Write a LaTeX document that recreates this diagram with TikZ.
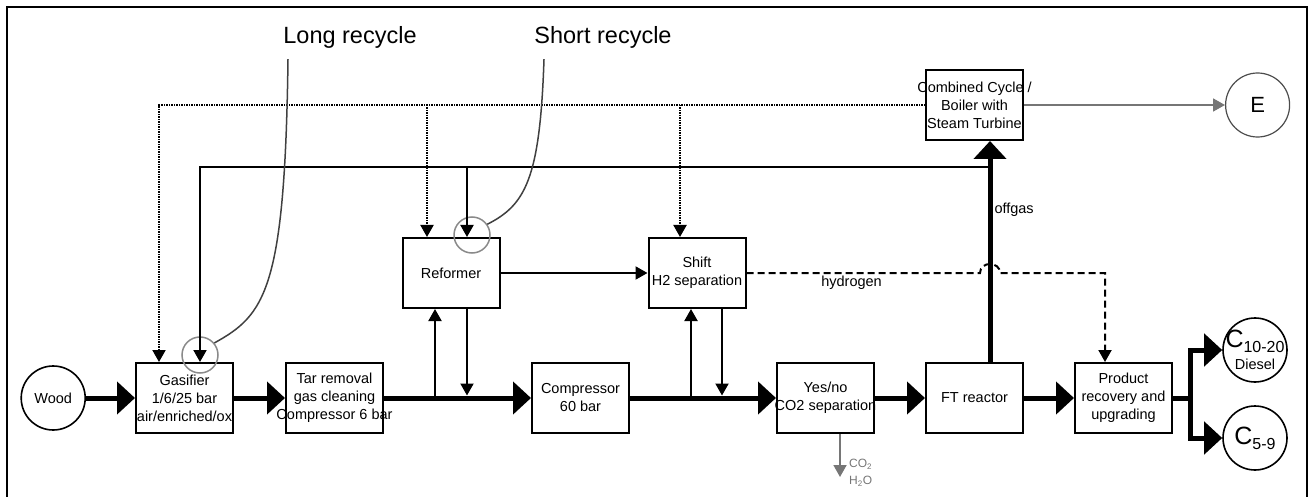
\documentclass[tikz,border=0pt]{standalone}
\usepackage{fontspec}
\setmainfont{Liberation Sans}
\usepackage{tikz}
\usetikzlibrary{arrows.meta,positioning,calc}
\definecolor{flowgray}{HTML}{767676}
\definecolor{ringgray}{HTML}{8A8A8A}
\newcommand{\boxfont}{\fontsize{14.5}{18}\selectfont}
\newcommand{\calloutfont}{\fontsize{23.5}{28}\selectfont}
\newcommand{\spill}[1]{\makebox[0pt]{#1}}
\tikzset{
  frameline/.style={line width=2.5pt},
  box/.style={draw, line width=2pt, minimum width=97pt, minimum height=70pt,
              inner sep=1pt, align=center, font=\boxfont},
  endpoint/.style={circle, draw, line width=1.6pt, minimum size=64pt,
                   inner sep=0pt, align=center, font=\boxfont},
  mainline/.style={line width=5pt},
  mainflow/.style={mainline, -{Triangle[length=18pt,width=32pt]}},
  flow/.style={line width=2pt, -{Triangle[length=12pt,width=13pt]}},
  steamflow/.style={line width=2pt, dash pattern=on 1.2pt off 1.3pt,
                    -{Triangle[length=12pt,width=13pt]}},
  h2flow/.style={line width=2pt, dash pattern=on 7pt off 4pt,
                 -{Triangle[length=12pt,width=13pt]}},
  grayflow/.style={line width=1.8pt, draw=flowgray,
                   -{Triangle[length=12pt,width=13pt,fill=flowgray]}},
  ring/.style={circle, draw=ringgray, line width=1.5pt, minimum size=36pt, inner sep=0pt},
  callout/.style={line width=1.5pt, draw=black!75},
  calloutlabel/.style={font=\calloutfont, inner sep=2pt},
  flowlabel/.style={font=\boxfont, inner sep=2pt},
  gaslabel/.style={font=\fontsize{12}{17}\selectfont, text=flowgray, align=left, inner sep=0pt}
}

\begin{document}
\begin{tikzpicture}[x=1pt, y=-1pt, node distance=51pt]
  \useasboundingbox (0,0) rectangle (1309,497);
  \draw[frameline] (7,497) -- (7,7) -- (1307,7) -- (1307,497);

  \node[box] (gasifier) at (184.5,398) {Gasifier\\1/6/25 bar\\\spill{air/enriched/ox}};
  \node[endpoint, left=49pt of gasifier] (wood) {Wood};
  \node[box, right=of gasifier] (tar) {Tar removal\\gas cleaning\\\spill{Compressor 6 bar}};
  \node[box, right=147pt of tar] (compressor) {Compressor\\60 bar};
  \node[box, right=146pt of compressor] (yesno) {Yes/no\\\spill{CO2 separation}};
  \node[box, right=50pt of yesno] (ft) {FT reactor};
  \node[box, right=50pt of ft] (product) {Product\\recovery and\\upgrading};

  \node[box] (reformer) at (451,273) {Reformer};
  \node[box, right=147pt of reformer] (shift) {Shift\\\spill{H2 separation}};
  \node[box, above=221pt of ft] (cc) {\spill{Combined Cycle /}\\Boiler with\\\spill{Steam Turbine}};
  \node[endpoint, right=201pt of cc, draw=black!70, line width=1.2pt,
        font=\fontsize{22}{24}\selectfont] (energy) {E};

  \node[endpoint] (diesel) at (1255,350)
    {\spill{{\fontsize{25}{25}\selectfont C}\raisebox{-5pt}{\fontsize{16}{16}\selectfont 10-20}}\\[4pt]Diesel};
  \node[endpoint] (naphtha) at (1255,438)
    {\spill{{\fontsize{25}{25}\selectfont C}\raisebox{-5pt}{\fontsize{16}{16}\selectfont 5-9}}};

  \coordinate (fork) at (1190,398);
  \coordinate (offx) at (990,0);
  \coordinate (recL) at (200,167);
  \coordinate (recS) at (467,167);
  \coordinate (recR) at (990,167);
  \coordinate (steamL) at (159,105);
  \coordinate (steamA) at (427,105);
  \coordinate (steamB) at (680,105);
  \coordinate (refup) at (435,398);
  \coordinate (refdown) at (467,398);
  \coordinate (shup) at (691,398);
  \coordinate (shdown) at (722,398);
  \coordinate (hopA) at (980,273);
  \coordinate (hopB) at (1000,273);
  \coordinate (h2drop) at (1105,273);
  \coordinate (co2out) at (840,477);

  \node[ring] (longring) at (200,355) {};
  \node[ring] (shortring) at (472,235) {};
  \node[calloutlabel] (longlbl) at (350,37) {Long recycle};
  \node[calloutlabel] (shortlbl) at (603,37) {Short recycle};

  \draw[mainflow] (wood) -- (gasifier);
  \draw[mainflow] (gasifier) -- (tar);
  \draw[mainflow] (tar) -- (compressor);
  \draw[mainflow] (compressor) -- (yesno);
  \draw[mainflow] (yesno) -- (ft);
  \draw[mainflow] (ft) -- (product);
  \draw[mainflow] (product) -- (fork) |- (diesel);
  \draw[mainflow] (fork) |- (naphtha);
  \draw[mainflow] (ft.north -| offx) -- (cc.south -| offx) node[flowlabel, right, pos=0.69] {offgas};

  \draw[flow] (recR) -- (recL) -- (recL |- gasifier.north);
  \draw[flow] (recS) -- (recS |- reformer.north);
  \draw[steamflow] (cc.west) -- (steamL) -- (steamL |- gasifier.north);
  \draw[steamflow] (steamA) -- (steamA |- reformer.north);
  \draw[steamflow] (steamB) -- (steamB |- shift.north);

  \draw[flow] (refup) -- (refup |- reformer.south);
  \draw[flow] (reformer.south -| refdown) -- ([yshift=2.5pt]refdown);
  \draw[flow] (shup) -- (shup |- shift.south);
  \draw[flow] (shift.south -| shdown) -- ([yshift=2.5pt]shdown);
  \draw[flow] (reformer) -- (shift);
  \draw[h2flow] (shift) -- node[flowlabel, below, pos=0.45] {hydrogen} (hopA)
    .. controls +(0,-12) and +(0,-12) .. (hopB) -- (h2drop) -- (h2drop |- product.north);

  \draw[grayflow] (cc) -- (energy);
  \draw[grayflow] (yesno.south -| co2out) -- (co2out);
  \node[gaslabel, anchor=west] (exhaust) at (849,473) {CO\textsubscript{2}\\H\textsubscript{2}O};

  \draw[callout] ([xshift=-62pt,yshift=-9pt]longlbl.south) .. controls (285,290) and (265,315) .. (longring.40);
  \draw[callout] ([xshift=-59pt,yshift=-9pt]shortlbl.south) .. controls (540,180) and (525,205) .. (shortring.35);
\end{tikzpicture}
\end{document}
